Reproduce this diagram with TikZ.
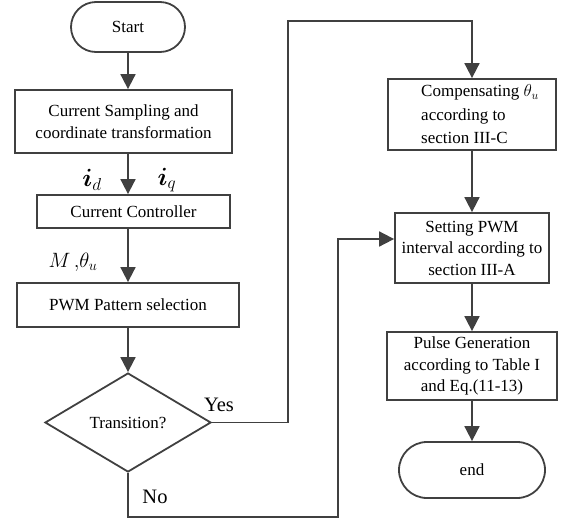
\documentclass[tikz,border=0pt]{standalone}
\usepackage{amsmath}
\usepackage{fontspec}
\setmainfont{Liberation Serif}
\usepackage{tikz}
\usetikzlibrary{
	arrows.meta,shapes.geometric
}
\definecolor{flowgray}{HTML}{404040}
\tikzset{
	stepbox/.style={draw=flowgray,line width=1.8pt,rectangle,align=center,inner sep=0pt,
		font=\fontsize{17}{21.5}\selectfont},
	termbox/.style={stepbox,rounded corners=25pt},
	flow/.style={->,draw=flowgray,line width=1.8pt,>={Triangle[width=15pt,length=15pt]}},
}

\begin{document}
\begin{tikzpicture}[x=1pt,y=-1pt]
		\useasboundingbox (0,0) rectangle (562,520);
		\node[termbox,minimum width=114pt,minimum height=50pt] (start) at (128,27) {Start};
		\node[stepbox,minimum width=217pt,minimum height=63pt] (sample) at (123.5,121.5)
			{Current Sampling and\\coordinate transformation};
		\node[stepbox,minimum width=193pt,minimum height=33pt] (ctrl) at (133.5,211.5) {Current Controller};
		\node[stepbox,minimum width=222pt,minimum height=44pt] (pattern) at (128,305) {PWM Pattern selection};
		\node[stepbox,diamond,minimum width=166pt,minimum height=99pt,aspect=1.68] (trans) at (128,422.5) {Transition?};
		\node[stepbox,minimum width=168pt,minimum height=71pt,align=left,
			font=\fontsize{17}{23.5}\selectfont] (comp) at (472,114.5)
			{\hspace*{16pt}Compensating $\theta_u$\\\hspace*{16pt}according to\\\hspace*{16pt}section III-C};
		\node[stepbox,minimum width=154pt,minimum height=70pt] (interval) at (472,248)
			{Setting PWM\\interval according to\\section III-A};
		\node[stepbox,minimum width=170pt,minimum height=68pt] (pulse) at (472,366)
			{Pulse Generation\\according to Table I\\and Eq.(11-13)};
		\node[termbox,rounded corners=28pt,minimum width=146pt,minimum height=56pt] (end) at (472,470) {end};
		%
		\node (id) at (92,180) {\fontsize{26}{26}\selectfont$\boldsymbol{i}_d$};
		\node (iq) at (167,180) {\fontsize{26}{26}\selectfont$\boldsymbol{i}_q$};
		\node (mtheta) at (73,262) {\fontsize{22}{22}\selectfont$M\,{,}\theta_u$};
		\node (yes) at (219,405) {\fontsize{20.5}{21}\selectfont Yes};
		\node (no) at (155,497) {\fontsize{20.5}{21}\selectfont No};
		%
		\coordinate (yesturn) at (288,21);
		\coordinate (noturn) at (338,517);
		%
		\draw[flow] (start.south) -- (start.south |- sample.north);
		\draw[flow] (start.south |- sample.south) -- (start.south |- ctrl.north);
		\draw[flow] (start.south |- ctrl.south) -- (start.south |- pattern.north);
		\draw[flow] (pattern.south) -- (trans.north);
		\draw[flow] (trans.east) -| (yesturn) -| (comp.north);
		\draw[flow] (comp.south) -- (interval.north);
		\draw[flow] (trans.south) |- (noturn) |- (interval.west |- 0,239);
		\draw[flow] (interval.south) -- (pulse.north);
		\draw[flow] (pulse.south) -- (end.north);
	\end{tikzpicture}
\end{document}
